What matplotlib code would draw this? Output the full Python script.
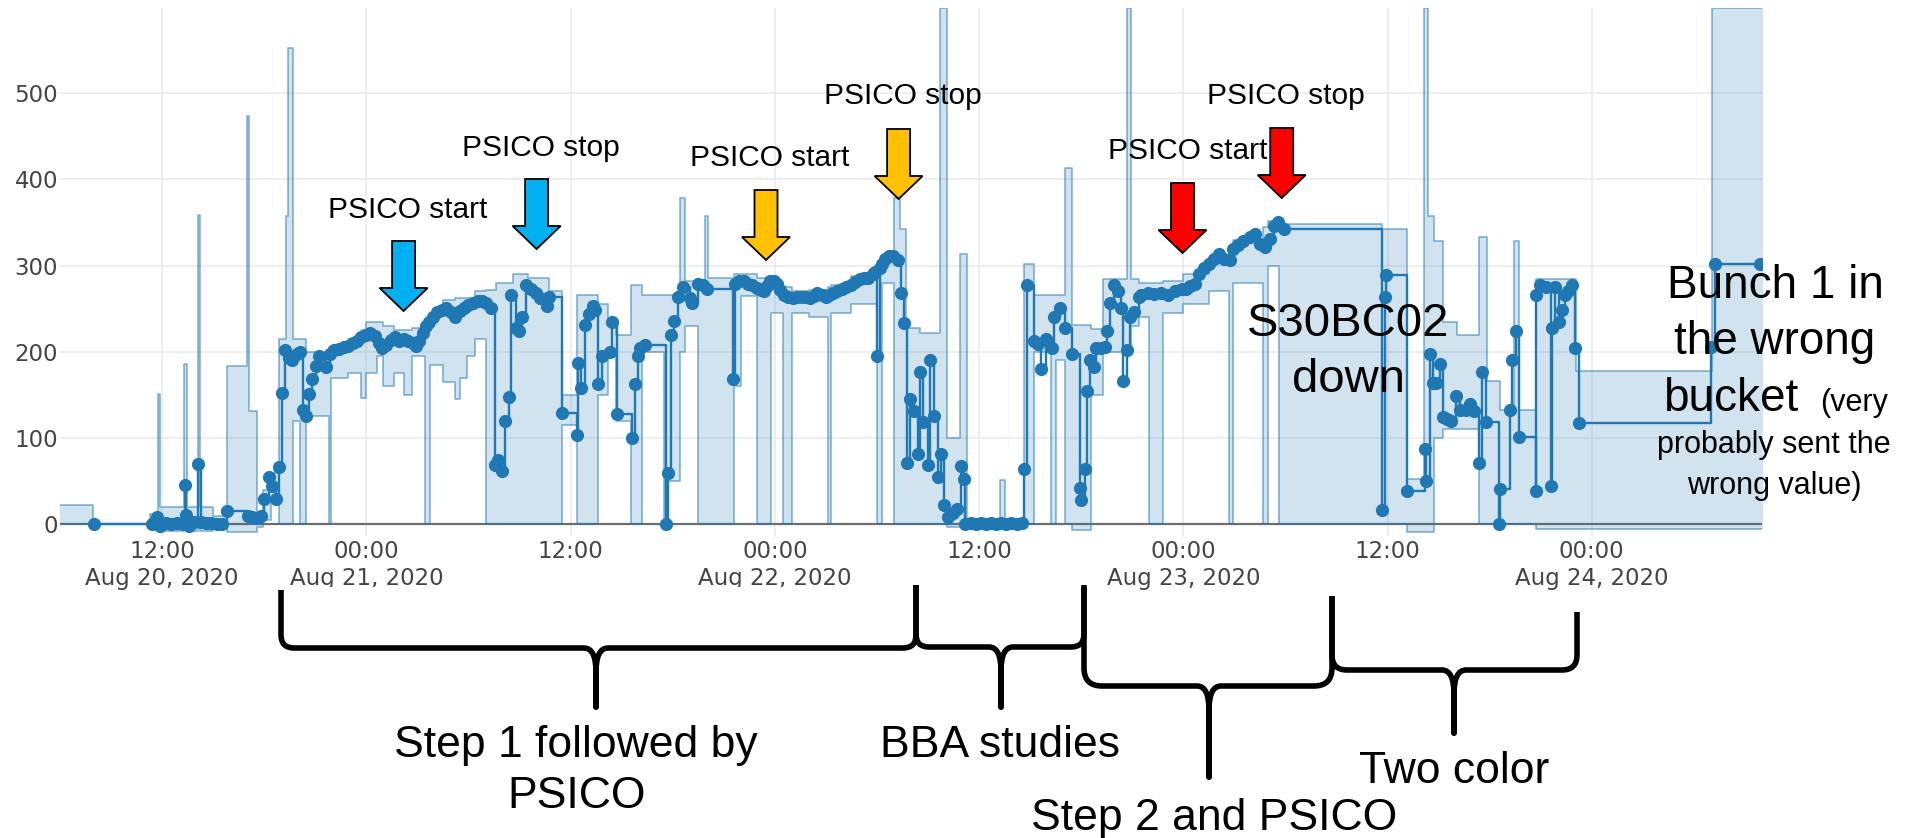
import numpy as np
import matplotlib
matplotlib.use("Agg")
import matplotlib.pyplot as plt
from matplotlib.path import Path
from matplotlib.patches import PathPatch, Polygon, Rectangle

W, H = 1914, 838  # output size in pixels (dpi 100)

t0 = np.datetime64('2020-08-20T00:00')

# measured points: hours after Aug 20 00:00 and value
pt_hours = [7.97, 11.38, 11.7, 11.9, 12.2, 12.55, 12.9, 13.2, 13.37, 13.42, 13.6, 13.75, 13.9, 14.13, 14.3, 14.6, 14.9, 15.2, 15.5, 15.84,
            17.02, 17.3, 17.55, 17.82, 18.0, 18.29, 18.47, 18.68, 18.86, 19.04, 19.2, 19.46, 19.64, 19.9, 20.1, 20.25, 20.43, 20.64, 20.82, 21.03,
            21.21, 21.6, 21.87, 22.1, 22.4, 22.66, 22.92, 23.19, 23.45, 23.71, 23.97, 24.24, 24.5, 24.76, 24.89, 25.15, 25.42, 25.68, 25.94, 26.2,
            26.47, 26.73, 26.91, 27.12, 27.33, 27.51, 27.7, 27.91, 28.17, 28.43, 28.69, 28.96, 29.22, 29.48, 29.74, 30.0, 30.27, 30.53, 30.79, 31.05,
            31.31, 31.53, 31.71, 31.97, 32.15, 32.36, 32.49, 32.8, 32.94, 33.15, 33.36, 33.67, 33.94, 34.2, 34.6, 34.73, 35.51, 36.38, 36.46, 36.64,
            36.83, 37.09, 37.3, 37.43, 37.61, 37.82, 38.34, 38.45, 38.71, 39.58, 39.76, 39.97, 40.1, 40.36, 41.6, 41.72, 41.9, 42.1, 42.3, 42.6,
            42.99, 43.14, 43.48, 43.8, 44.0, 45.56, 45.63, 45.9, 46.16, 46.42, 46.68, 46.95, 47.21, 47.34, 47.52, 47.73, 47.94, 48.13, 48.31, 48.52,
            48.78, 49.04, 49.31, 49.57, 49.83, 50.09, 50.3, 50.49, 50.75, 51.01, 51.2, 51.41, 51.67, 51.93, 52.19, 52.45, 52.72, 52.98, 53.24, 53.5,
            53.77, 53.9, 54.03, 54.16, 54.29, 54.5, 54.68, 54.95, 55.21, 55.39, 55.6, 55.79, 55.97, 56.18, 56.39, 56.52, 56.73, 56.97, 57.12, 57.36,
            57.57, 57.75, 57.91, 58.17, 58.49, 58.7, 58.93, 59.12, 59.2, 59.5, 59.8, 60.1, 60.4, 60.7, 61.0, 61.3, 61.6, 61.9, 62.2, 62.5,
            62.63, 62.82, 63.21, 63.47, 63.65, 63.94, 64.26, 64.39, 64.73, 65.05, 65.44, 65.91, 65.96, 66.23, 66.36, 66.54, 66.75, 66.88, 67.14, 67.41,
            67.54, 67.67, 67.93, 68.19, 68.32, 68.46, 68.67, 68.85, 69.11, 69.37, 69.51, 69.9, 70.3, 70.7, 71.1, 71.5, 71.9, 72.13, 72.4, 72.66,
            72.9, 73.2, 73.5, 73.8, 74.1, 74.4, 74.75, 74.9, 75.2, 75.5, 75.9, 76.2, 76.5, 76.8, 77.1, 77.3, 77.55, 77.9, 83.67, 83.87,
            83.92, 85.17, 86.19, 86.26, 86.48, 86.66, 86.86, 87.06, 87.23, 87.48, 87.73, 88.03, 88.23, 88.6, 88.85, 89.1, 89.35, 89.55, 89.8, 90.54,
            90.6, 91.21, 91.34, 91.54, 91.71, 92.7, 92.75, 92.95, 93.33, 93.58, 93.65, 93.82, 94.07, 94.25, 94.45, 94.62, 94.82, 95.02, 95.22, 103.03,
            103.23, 105.9]
pt_vals = [0, 0, 9, -2, 2, 0, 2, 0, 45, 11, -2, 1, 3, 70, 3, 2, 1, 0, 0, 15,
           10, 8, 7, 10, 29, 55, 44, 29, 66, 152, 202, 193, 191, 197, 200, 133, 126, 151, 169, 184,
           195, 182, 197, 202, 203, 205, 207, 210, 213, 217, 220, 222, 218, 210, 204, 208, 214, 217, 212, 215,
           213, 210, 207, 212, 222, 230, 235, 240, 246, 249, 251, 246, 240, 247, 251, 254, 257, 259, 259, 257,
           251, 69, 75, 62, 120, 147, 266, 228, 224, 240, 277, 273, 268, 262, 253, 264, 129, 104, 187, 158,
           231, 244, 253, 248, 163, 195, 200, 234, 128, 100, 163, 195, 204, 208, 0, 59, 220, 236, 264, 275,
           262, 257, 279, 277, 273, 169, 279, 282, 282, 279, 277, 274, 272, 271, 276, 282, 282, 279, 272, 266,
           264, 262, 263, 264, 263, 262, 265, 268, 266, 264, 266, 268, 271, 273, 275, 277, 281, 284, 285, 286,
           290, 293, 195, 297, 302, 307, 311, 311, 306, 268, 233, 71, 145, 131, 82, 177, 118, 69, 191, 125,
           55, 82, 22, 9, 13, 18, 67, 53, 0, 1, 0, 1, 0, 1, 0, 2, 0, 1, 0, 1,
           64, 277, 213, 209, 180, 215, 204, 240, 251, 228, 197, 42, 28, 64, 155, 191, 182, 204, 204, 206,
           224, 257, 277, 271, 251, 166, 202, 240, 246, 264, 266, 268, 267, 268, 266, 270, 273, 273, 276, 279,
           290, 297, 302, 307, 313, 308, 306, 319, 324, 329, 333, 337, 325, 322, 331, 346, 350, 342, 16, 264,
           289, 38, 87, 50, 197, 164, 164, 186, 124, 122, 120, 149, 133, 133, 140, 131, 71, 177, 118, 0,
           41, 132, 191, 224, 101, 39, 266, 277, 275, 44, 228, 275, 235, 248, 266, 271, 277, 204, 117, 206,
           302, 302]

# min / max envelope (step after)
band_hours = [6.0, 7.95, 11.3, 11.75, 11.9, 13.3, 13.45, 14.1, 14.25, 15.0, 15.84, 17.0, 17.12, 17.55, 17.95, 18.4, 18.86, 19.25, 19.4, 19.7,
              20.1, 20.45, 21.8, 21.95, 22.9, 23.7, 24.0, 24.6, 24.95, 25.6, 26.2, 26.7, 27.45, 27.75, 28.5, 29.2, 29.5, 29.9, 30.4, 31.0,
              31.6, 32.6, 33.5, 34.75, 35.5, 36.4, 37.6, 38.2, 38.65, 39.55, 40.2, 41.5, 41.7, 42.45, 42.7, 43.5, 43.9, 44.1, 45.6, 46.0,
              46.95, 47.75, 48.5, 49.0, 50.0, 51.1, 51.3, 52.5, 54.0, 54.3, 55.0, 55.35, 55.7, 56.5, 57.7, 58.1, 58.9, 59.3, 61.25, 61.5,
              62.65, 63.2, 64.2, 64.5, 65.05, 65.45, 66.6, 67.3, 68.7, 68.95, 69.4, 70.0, 70.8, 72.0, 73.5, 74.7, 74.9, 76.7, 77.0, 77.65,
              83.67, 85.17, 86.16, 86.4, 86.73, 87.23, 88.1, 89.35, 89.84, 90.6, 91.45, 91.7, 92.7, 95.07, 103.08, 106.1]
band_lo = [0, 0, -3, -3, -8, -5, -8, -5, -8, -3, -9, -9, -9, -3, 5, 25, 0, 0, 0, 120,
           0, 125, 0, 170, 175, 146, 175, 195, 160, 175, 150, 195, 0, 185, 165, 145, 170, 195, 215, 0,
           0, 0, 0, 0, 115, 0, 150, 200, 120, 0, 200, 0, 50, 200, 230, 0, 0, 0, 160, 265,
           0, 245, 0, 245, 240, 0, 245, 255, 0, 280, 0, 0, 0, 0, 0, -3, -3, -3, -3, -3,
           0, 200, 0, 190, 0, -7, 150, 200, 200, 230, 240, 0, 245, 255, 270, 0, 280, 0, 300, 0,
           0, -9, -9, -9, 100, 110, 110, 0, 0, 0, 0, 0, -5, -5, -5, -5]
band_hi = [22, 0, 12, 151, 20, 186, 20, 359, 20, 10, 183, 473, 131, 12, 40, 60, 215, 357, 552, 215,
           215, 200, 205, 205, 215, 225, 235, 235, 230, 225, 225, 228, 225, 245, 260, 262, 262, 262, 270, 272,
           280, 290, 285, 270, 150, 266, 255, 230, 220, 277, 266, 266, 266, 378, 282, 275, 357, 286, 290, 290,
           285, 280, 275, 270, 272, 275, 278, 288, 295, 312, 378, 342, 228, 222, 599, 100, 313, 5, 51, 5,
           302, 266, 266, 266, 413, 231, 226, 284, 599, 284, 280, 280, 282, 290, 310, 322, 330, 345, 352, 348,
           342, 53, 599, 357, 328, 235, 220, 333, 166, 133, 328, 133, 284, 178, 599, 599]

tick_hours = [12, 24, 36, 48, 60, 72, 84, 96]
tick_labels = ['12:00\nAug 20, 2020', '00:00\nAug 21, 2020', '12:00', '00:00\nAug 22, 2020',
               '12:00', '00:00\nAug 23, 2020', '12:00', '00:00\nAug 24, 2020']


def to_time(h):
    # hours after t0 -> datetime64
    sec = np.round(np.asarray(h, dtype=float) * 3600).astype('int64')
    return t0 + sec.astype('timedelta64[s]')


blue = '#1f77b4'

fig = plt.figure(figsize=(W / 100, H / 100), dpi=100)
ax = fig.add_axes([60 / W, 1 - 536 / H, 1702 / W, 528 / H])

bt = to_time(band_hours)
ax.fill_between(bt, band_lo, band_hi, step='post', color=blue, alpha=0.2, lw=0, zorder=2)
ax.step(bt, band_hi, where='post', color=blue, alpha=0.5, lw=1.3, zorder=2)
ax.step(bt, band_lo, where='post', color=blue, alpha=0.5, lw=1.3, zorder=2)

ax.axhline(0, color='#6e6e6e', lw=1.6, zorder=1.5)

pt = to_time(pt_hours)
ax.step(pt, pt_vals, where='post', color=blue, lw=1.7, zorder=3)
ax.plot(pt, pt_vals, 'o', color=blue, ms=9.5, mew=0, zorder=4)

ax.set_xlim(to_time([6.0, 106.0]))
ax.set_ylim(-13.6, 598.6)
ax.set_xticks(to_time(tick_hours))
ax.set_xticklabels(tick_labels)
ax.set_yticks([0, 100, 200, 300, 400, 500])
ax.tick_params(length=0, labelsize=16.5, labelcolor='#444444')
ax.tick_params(axis='x', pad=3)
ax.tick_params(axis='y', pad=1.5)
ax.grid(True, color='#ebebeb', lw=1.2, zorder=0)
ax.set_axisbelow(True)
for s in ax.spines.values():
    s.set_visible(False)


# ---- slide annotations, placed in pixel coords of the picture ----
def fxy(x, y):
    return (x / W, 1 - y / H)


def block_arrow(xc, top, neck, tip, color):
    pts = [(xc - 11.5, top), (xc + 11.5, top), (xc + 11.5, neck), (xc + 24, neck),
           (xc, tip), (xc - 24, neck), (xc - 11.5, neck)]
    fig.add_artist(Polygon([fxy(*p) for p in pts], closed=True, transform=fig.transFigure,
                           facecolor=color, edgecolor='black', lw=1.3, zorder=10))


def label(x, y, s, size, ha='center'):
    fig.text(x / W, 1 - y / H, s, ha=ha, va='baseline', fontsize=size,
             family='Liberation Sans', color='black', zorder=11)


arrow_x = [403.6, 536.6, 766, 898.6, 1182.5, 1281.7]
arrow_top = [241, 179, 190, 129, 183, 128]
arrow_cols = ['#00B0F0', '#00B0F0', '#FFC000', '#FFC000', '#FF0000', '#FF0000']
for xc, top, c in zip(arrow_x, arrow_top, arrow_cols):
    block_arrow(xc, top, top + 47, top + 70, c)

label(408, 218, 'PSICO start', 21.5)
label(541, 156, 'PSICO stop', 21.5)
label(770, 166, 'PSICO start', 21.5)
label(903, 104, 'PSICO stop', 21.5)
label(1188, 159, 'PSICO start', 21.5)
label(1286, 104, 'PSICO stop', 21.5)

label(1348, 336, 'S30BC02', 34)
label(1349, 392, 'down', 34)
label(1775, 298, 'Bunch 1 in', 33)
label(1775, 354, 'the wrong', 33)
label(1663, 411, 'bucket', 33, ha='left')
label(1820, 411, '(very', 22, ha='left')
label(1774, 453, 'probably sent the', 22)
label(1774, 494, 'wrong value)', 22)

# white strip that hides the bottom of two date labels, as in the slide
fig.add_artist(Rectangle(fxy(265, 600), 810 / W, 13 / H, transform=fig.transFigure,
                         facecolor='white', edgecolor='none', zorder=8))


def brace(x0, x1, y0, y1, yh, xt, ytip, r=13):
    M, L, C = Path.MOVETO, Path.LINETO, Path.CURVE3
    verts = [(x0, y0), (x0, yh - r), (x0, yh), (x0 + r, yh), (xt - 12, yh), (xt, yh), (xt, yh + 24),
             (xt, ytip), (xt, yh + 24), (xt, yh), (xt + 12, yh), (x1 - r, yh), (x1, yh), (x1, yh - r), (x1, y1)]
    codes = [M, L, C, C, L, C, C, L, L, C, C, L, C, C, L]
    p = Path([fxy(*v) for v in verts], codes)
    fig.add_artist(PathPatch(p, transform=fig.transFigure, facecolor='none', edgecolor='black',
                             lw=4, capstyle='butt', joinstyle='round', zorder=9))


brace(281, 916, 590, 585, 648, 596, 707)
brace(916, 1084, 585, 585, 647, 1001, 707)
brace(1084, 1332, 588, 596, 686, 1209, 777, r=18)
brace(1332, 1577, 596, 612, 670, 1454, 733, r=15)

label(576, 757, 'Step 1 followed by', 32)
label(577, 808, 'PSICO', 32)
label(1000, 757, 'BBA studies', 32)
label(1214, 830, 'Step 2 and PSICO', 32)
label(1454, 783, 'Two color', 32)

plt.savefig('out.png', dpi=100)
